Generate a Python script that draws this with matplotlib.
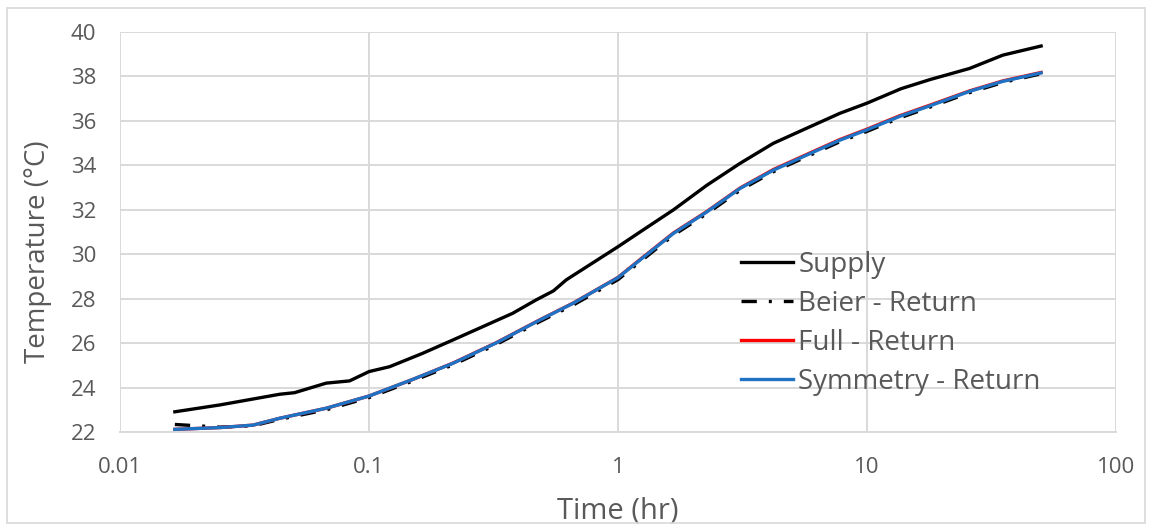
import matplotlib
matplotlib.use("Agg")
import matplotlib.pyplot as plt
from matplotlib.patches import Rectangle

# time in hours, temperatures in deg C
supply_t = [0.0166, 0.0252, 0.0438, 0.0502, 0.0673, 0.0835, 0.1, 0.121, 0.164,
            0.217, 0.277, 0.377, 0.468, 0.55, 0.62, 1.0, 1.225, 1.67, 2.27,
            3.09, 4.2, 5.72, 7.77, 10.0, 13.7, 17.9, 25.8, 35.1, 50.0]
supply_T = [22.91, 23.22, 23.70, 23.77, 24.20, 24.30, 24.72, 24.94, 25.54,
            26.14, 26.67, 27.34, 27.94, 28.35, 28.85, 30.34, 31.00, 32.00, 33.10,
            34.09, 34.99, 35.67, 36.34, 36.80, 37.45, 37.86, 38.36, 38.96, 39.37]

return_t = [0.0166, 0.0252, 0.0342, 0.0438, 0.0673, 0.1, 0.150, 0.217, 0.323,
            0.487, 0.662, 1.0, 1.225, 1.67, 2.27, 3.09, 4.2, 5.72, 7.77, 10.0,
            13.5, 17.9, 25.8, 35.1, 50.0]
symmetry_T = [22.12, 22.20, 22.31, 22.62, 23.07, 23.62, 24.37, 25.09, 26.00,
              27.05, 27.80, 28.95, 29.74, 30.94, 31.90, 32.96, 33.78, 34.46,
              35.13, 35.60, 36.20, 36.68, 37.33, 37.78, 38.16]
full_T = [22.12, 22.20, 22.31, 22.62, 23.07, 23.62, 24.37, 25.10, 26.01,
          27.06, 27.81, 28.96, 29.76, 30.96, 31.92, 32.98, 33.81, 34.49,
          35.16, 35.63, 36.23, 36.71, 37.35, 37.80, 38.18]
beier_T = [22.34, 22.22, 22.28, 22.57, 23.00, 23.55, 24.30, 25.02, 25.93,
           26.98, 27.72, 28.86, 29.66, 30.86, 31.82, 32.88, 33.71, 34.39,
           35.06, 35.53, 36.13, 36.62, 37.27, 37.73, 38.12]

x_ticks = [0.01, 0.1, 1, 10, 100]
x_tick_labels = ["0.01", "0.1", "1", "10", "100"]
y_ticks = list(range(22, 41, 2))

plt.rcParams['font.family'] = ['Open Sans', 'DejaVu Sans']
text_col = '#595959'
grid_col = '#d9d9d9'

fig = plt.figure(figsize=(11.52, 5.31), dpi=100)
ax = fig.add_axes([0.1042, 0.1864, 0.8646, 0.7533])

ax.plot(supply_t, supply_T, color='black', lw=2.4, label='Supply', zorder=3)
ax.plot(return_t, beier_T, color='black', lw=2.4, linestyle=(0, (4.6, 3.6, 0.9, 3.6)),
        label='Beier - Return', zorder=3)
ax.plot(return_t, full_T, color='#ff0000', lw=2.4, label='Full - Return', zorder=4)
ax.plot(return_t, symmetry_T, color='#1f73c4', lw=2.4, label='Symmetry - Return', zorder=5)

ax.set_xscale('log')
ax.set_xlim(0.01, 100)
ax.set_ylim(22, 40)
ax.set_xticks(x_ticks)
ax.set_xticklabels(x_tick_labels)
ax.set_yticks(y_ticks)
ax.minorticks_off()
ax.tick_params(length=0, labelsize=16, colors=text_col)
ax.tick_params(axis='y', pad=17)
ax.tick_params(axis='x', pad=18)
ax.grid(True, color=grid_col, lw=1.4)
ax.set_axisbelow(True)
for side in ['top', 'right', 'left']:
    ax.spines[side].set_visible(False)
ax.spines['bottom'].set_color(grid_col)
ax.spines['bottom'].set_linewidth(1.4)

ax.set_xlabel('Time (hr)', fontsize=21, color=text_col, labelpad=13)
ax.set_ylabel('Temperature (°C)', fontsize=20, color=text_col)
ax.yaxis.set_label_coords(-0.068, 0.45)

leg = ax.legend(loc='upper left', bbox_to_anchor=(0.612, 0.48), frameon=False,
                fontsize=20, handlelength=1.87, handletextpad=0.2,
                labelspacing=0.39, borderaxespad=0)
for t in leg.get_texts():
    t.set_color(text_col)

# light outer border
fig.patches.append(Rectangle((0.006, 0.015), 0.988, 0.97, transform=fig.transFigure,
                             fill=False, edgecolor=grid_col, lw=1.2))

fig.savefig('out.png', dpi=100)
